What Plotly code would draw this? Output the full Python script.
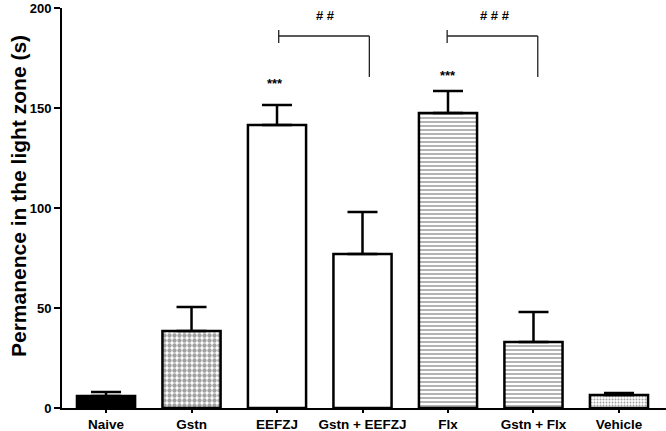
import plotly.graph_objects as go

categories = ["Naive", "Gstn", "EEFZJ", "Gstn + EEFZJ", "Flx", "Gstn + Flx", "Vehicle"]
means = [6, 38.5, 141.5, 77, 147.5, 33, 6.5]
errors = [2, 12, 10, 21, 11, 15, 1]
y_ticks = [0, 50, 100, 150, 200]

pattern_shapes = ["", ".", "", "", "-", "-", "."]
pattern_fg = ["black", "black", "black", "black", "#444444", "#444444", "#777777"]
pattern_size = [6, 5, 6, 6, 4, 4, 3]
pattern_solid = [0.3, 0.6, 0.3, 0.3, 0.4, 0.4, 0.35]
fill_colors = ["black", "white", "white", "white", "white", "white", "white"]

FONT = "Arial, Liberation Sans, sans-serif"

fig = go.Figure()
fig.add_trace(go.Bar(
    x=categories, y=means, width=0.68,
    marker=dict(
        color=fill_colors,
        line=dict(color="black", width=2.5),
        pattern=dict(shape=pattern_shapes, fgcolor=pattern_fg, bgcolor="white",
                     size=pattern_size, solidity=pattern_solid, fillmode="overlay"),
    ),
    error_y=dict(type="data", array=errors, arrayminus=[0] * len(errors),
                 symmetric=False, color="black", thickness=2.5, width=15),
    showlegend=False, hoverinfo="skip",
))

# significance brackets
lw = 1.3
for x0, x1 in [(2.02, 3.08), (3.99, 5.05)]:
    fig.add_shape(type="line", x0=x0, x1=x1, y0=186, y1=186, xref="x", yref="y",
                  line=dict(color="#222", width=lw))
    fig.add_shape(type="line", x0=x0, x1=x0, y0=182.5, y1=189, xref="x", yref="y",
                  line=dict(color="#222", width=lw))
    fig.add_shape(type="line", x0=x1, x1=x1, y0=186, y1=165.5, xref="x", yref="y",
                  line=dict(color="#222", width=lw))

fig.add_annotation(x=2.57, y=196.5, text="<b># #</b>", showarrow=False,
                   font=dict(family=FONT, size=13, color="black"), xref="x", yref="y")
fig.add_annotation(x=4.55, y=196.5, text="<b># # #</b>", showarrow=False,
                   font=dict(family=FONT, size=13, color="black"), xref="x", yref="y")
fig.add_annotation(x=1.98, y=162.5, text="<b>***</b>", showarrow=False,
                   font=dict(family=FONT, size=13, color="black"), xref="x", yref="y")
fig.add_annotation(x=4.0, y=166.5, text="<b>***</b>", showarrow=False,
                   font=dict(family=FONT, size=13, color="black"), xref="x", yref="y")

fig.add_annotation(x=-44 / 604, y=0.53, xref="paper", yref="paper",
                   text="<b>Permanence in the light zone (s)</b>", textangle=-90,
                   showarrow=False, xanchor="center", yanchor="middle",
                   font=dict(family=FONT, size=21, color="black"))

fig.update_layout(
    width=666, height=431,
    margin=dict(l=62, r=0, t=8, b=23, autoexpand=False),
    plot_bgcolor="white", paper_bgcolor="white",
    font=dict(family=FONT, color="black"),
    bargap=0.32,
)
fig.update_xaxes(
    range=[-0.515, 6.55], showline=True, linecolor="black", linewidth=2,
    ticks="outside", ticklen=3, tickwidth=2, tickcolor="black",
    showgrid=False, zeroline=False, automargin=False,
    tickfont=dict(family=FONT, size=13.5, color="black"),
    tickvals=categories, ticktext=[f"<b>{c}</b>" for c in categories],
)
fig.update_yaxes(
    range=[0, 200], showline=True, linecolor="black", linewidth=2,
    ticks="outside", ticklen=6, tickwidth=2, tickcolor="black",
    showgrid=False, zeroline=False, tickvals=y_ticks, automargin=False,
    ticktext=[f"<b>{v}</b>" for v in y_ticks],
    tickfont=dict(family=FONT, size=13, color="black"),
)

fig.write_html("out.html", config={"displayModeBar": False},
               post_script="document.body.style.margin='0';")
